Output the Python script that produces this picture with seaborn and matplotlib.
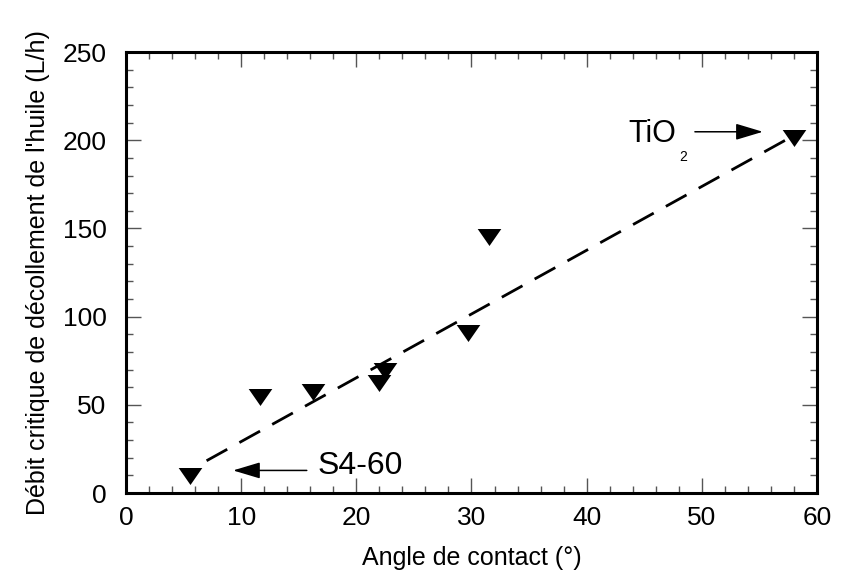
import matplotlib
matplotlib.use("Agg")
import matplotlib.pyplot as plt
import seaborn as sns
import pandas as pd
from matplotlib.ticker import MultipleLocator

# ---- data ----
angle = [5.6, 11.6, 16.2, 22.0, 22.5, 29.7, 31.5, 58.0]
debit = [9.5, 54.6, 57.4, 62.5, 69.0, 90.5, 145.3, 201.0]
fit_x = [7.0, 57.8]
fit_y = [18.3, 202.0]
xticks = [0, 10, 20, 30, 40, 50, 60]
yticks = [0, 50, 100, 150, 200, 250]

sns.set_theme(style="ticks")
plt.rcParams['font.family'] = ['Liberation Sans', 'DejaVu Sans']
plt.rcParams['text.color'] = 'black'
plt.rcParams['axes.labelcolor'] = 'black'
plt.rcParams['xtick.labelcolor'] = 'black'
plt.rcParams['ytick.labelcolor'] = 'black'

fig = plt.figure(figsize=(8.42, 5.72), dpi=100)
ax = fig.add_axes([0.1496, 0.1381, 0.8207, 0.7709])

pts = pd.DataFrame({"x": angle, "y": debit})
fit = pd.DataFrame({"x": fit_x, "y": fit_y})

sns.lineplot(data=fit, x="x", y="y", ax=ax, color="black", lw=2.0,
             dashes=False, linestyle=(0, (8.5, 5)), zorder=2)
tri = [(-1.0, 0.72), (1.0, 0.72), (0.0, -0.72)]
sns.scatterplot(data=pts, x="x", y="y", ax=ax, marker=tri, s=17**2,
                color="black", edgecolor="black", linewidth=0, zorder=3)

ax.set_xlim(0, 60)
ax.set_ylim(0, 250)
ax.set_xticks(xticks)
ax.set_yticks(yticks)
ax.xaxis.set_minor_locator(MultipleLocator(2))
ax.yaxis.set_minor_locator(MultipleLocator(10))
ax.tick_params(which="both", direction="in", top=True, right=True,
               labelsize=19, color="#555555", width=1)
ax.tick_params(axis="x", which="both", pad=9)
ax.tick_params(axis="y", which="both", pad=14)
ax.tick_params(which="major", length=11)
ax.tick_params(which="minor", length=5)
for s in ax.spines.values():
    s.set_linewidth(2.2)
    s.set_color("black")

ax.set_xlabel("Angle de contact (°)", fontsize=18, labelpad=12)
ax.set_ylabel("Débit critique de décollement de l'huile (L/h)", fontsize=18, labelpad=9)

arrow = dict(arrowstyle='-|>,head_length=1.4,head_width=0.42', lw=1.1, color='black',
             shrinkA=0, shrinkB=0)
ax.annotate("", xy=(9.3, 12.8), xytext=(15.7, 12.8), arrowprops=arrow)
ax.text(16.6, 15.5, "S4-60", fontsize=23, va="center", ha="left")
ax.annotate("", xy=(55.3, 204.8), xytext=(49.4, 204.8), arrowprops=arrow)
ax.text(43.6, 203.5, "TiO", fontsize=22, va="center", ha="left")
ax.text(48.4, 190.5, "2", fontsize=10, va="center", ha="center")

fig.savefig("out.png", dpi=100)
